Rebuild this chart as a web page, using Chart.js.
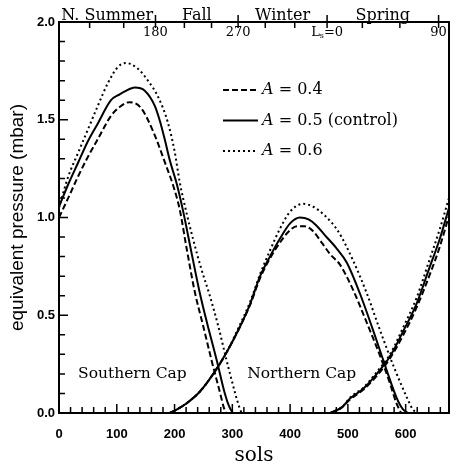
<!DOCTYPE html>
<html lang="en">
<head>
  <meta charset="UTF-8" />
  <title>Cap pressure vs sols</title>
  <style>
    body { margin: 0; background: #fff; }
    #wrap { width: 456px; height: 468px; }
  </style>
</head>
<body>
  <div id="wrap"><canvas id="capChart"></canvas></div>

  <script src="https://cdn.jsdelivr.net/npm/chart.js"></script>
  <script>
    // axis ticks
    const solTicks = [0, 100, 200, 300, 400, 500, 600];
    const pressureTicks = [0, 0.5, 1.0, 1.5, 2.0];

    // top axis: solar longitude Ls and the sol where it falls
    const lsValues = [120, 150, 180, 210, 240, 270, 300, 330, 0, 30, 60, 90];
    const lsSols = [53, 112, 167, 217, 264, 310, 357, 408, 464, 525, 590, 657];
    const lsLabelled = [180, 270, 0, 90];
    const seasons = ["N. Summer", "Fall", "Winter", "Spring"];
    const seasonStart = [0, 167, 310, 464];
    const seasonEnd = [167, 310, 464, 657];

    const albedos = ["0.4", "0.5", "0.6"];
    const albedoNotes = ["", " (control)", ""];

    // southern cap (year start, then the next growth at year end)
    const south04Sols = [0, 16, 33, 50, 67, 90, 105, 122, 142, 163, 186, 198, 209, 221, 235, 250, 264, 279, 285, 289,
                         380, 470, 490, 504, 527, 550, 573, 596, 619, 642, 659, 675];
    const south04 = [1.00, 1.10, 1.21, 1.31, 1.40, 1.52, 1.565, 1.59, 1.56, 1.44, 1.26, 1.16, 1.04, 0.84, 0.62, 0.44, 0.27, 0.10, 0.03, 0,
                     null, 0, 0.03, 0.07, 0.12, 0.19, 0.28, 0.40, 0.54, 0.71, 0.85, 1.01];

    const south05Sols = [0, 16, 33, 50, 67, 90, 105, 114, 131, 148, 166, 175, 183, 192, 204, 215, 230, 244, 258, 273, 287, 295, 301,
                         380, 470, 490, 504, 527, 550, 573, 596, 619, 642, 659, 675];
    const south05 = [1.055, 1.17, 1.28, 1.39, 1.48, 1.60, 1.63, 1.645, 1.665, 1.65, 1.57, 1.49, 1.40, 1.29, 1.17, 1.03, 0.81, 0.61, 0.44, 0.27, 0.10, 0.03, 0,
                     null, 0, 0.03, 0.075, 0.125, 0.20, 0.29, 0.42, 0.56, 0.75, 0.89, 1.05];

    const south06Sols = [0, 16, 33, 50, 67, 85, 102, 116, 137, 154, 171, 188, 200, 209, 221, 232, 246, 261, 276, 290, 305, 312, 316,
                         380, 470, 490, 504, 527, 550, 573, 596, 619, 642, 659, 675];
    const south06 = [1.05, 1.21, 1.33, 1.45, 1.57, 1.69, 1.77, 1.79, 1.76, 1.70, 1.62, 1.49, 1.34, 1.18, 1.02, 0.89, 0.74, 0.60, 0.44, 0.27, 0.10, 0.03, 0,
                     null, 0, 0.03, 0.08, 0.13, 0.21, 0.30, 0.44, 0.59, 0.79, 0.94, 1.10];

    // northern cap
    const north04Sols = [192, 205, 221, 244, 267, 290, 313, 331, 348, 365, 382, 398, 412, 425, 440, 455, 470, 486, 509, 533, 556, 573, 584, 592];
    const north04 = [0, 0.02, 0.05, 0.11, 0.20, 0.31, 0.44, 0.555, 0.69, 0.79, 0.87, 0.93, 0.955, 0.955, 0.93, 0.87, 0.81, 0.76, 0.63, 0.46, 0.29, 0.15, 0.05, 0];

    const north05Sols = [192, 205, 221, 244, 267, 290, 313, 331, 348, 365, 382, 400, 417, 432, 445, 460, 481, 498, 521, 544, 567, 584, 595, 604];
    const north05 = [0, 0.02, 0.05, 0.11, 0.20, 0.31, 0.44, 0.56, 0.70, 0.80, 0.89, 0.97, 1.00, 0.99, 0.96, 0.91, 0.84, 0.77, 0.61, 0.42, 0.22, 0.08, 0.02, 0];

    const north06Sols = [192, 205, 221, 244, 267, 290, 313, 331, 348, 365, 382, 400, 422, 440, 460, 483, 509, 533, 556, 579, 602, 612, 619];
    const north06 = [0, 0.02, 0.05, 0.11, 0.20, 0.31, 0.45, 0.57, 0.71, 0.83, 0.94, 1.03, 1.07, 1.055, 1.01, 0.93, 0.78, 0.61, 0.42, 0.24, 0.08, 0.02, 0];

    const pts = (xs, ys) => xs.map((x, i) => ({ x: x, y: ys[i] }));

    const dashes = [[6, 3], [], [2, 3]];
    const southSeries = [pts(south04Sols, south04), pts(south05Sols, south05), pts(south06Sols, south06)];
    const northSeries = [pts(north04Sols, north04), pts(north05Sols, north05), pts(north06Sols, north06)];

    function lineSet(label, data, i) {
      return {
        label: label,
        data: data,
        borderColor: "#000",
        borderWidth: 2,
        borderDash: dashes[i],
        pointRadius: 0,
        cubicInterpolationMode: "monotone",
        spanGaps: false
      };
    }

    const datasets = [];
    albedos.forEach((a, i) => datasets.push(lineSet("A = " + a, southSeries[i], i)));
    albedos.forEach((a, i) => datasets.push(lineSet("A = " + a + " north", northSeries[i], i)));

    const serif = "'DejaVu Serif', serif";
    const sans = "'Liberation Sans', Arial, sans-serif";

    const framePlugin = {
      id: "frame",
      afterDraw(chart) {
        const { ctx, chartArea: a, scales: { x, y } } = chart;
        ctx.save();
        ctx.strokeStyle = "#000";
        ctx.fillStyle = "#000";
        ctx.lineWidth = 2;
        ctx.strokeRect(a.left, a.top, a.right - a.left, a.bottom - a.top);

        // inward ticks
        ctx.lineWidth = 1.5;
        ctx.beginPath();
        for (let s = 0; s <= x.max; s += 20) {
          const px = x.getPixelForValue(s);
          const len = s % 100 === 0 ? 9 : 6;
          ctx.moveTo(px, a.bottom);
          ctx.lineTo(px, a.bottom - len);
        }
        for (let k = 0; k <= 20; k++) {
          const py = y.getPixelForValue(k / 10);
          const len = k % 5 === 0 ? 9 : 6;
          ctx.moveTo(a.left, py);
          ctx.lineTo(a.left + len, py);
        }
        lsSols.forEach((s, i) => {
          const px = x.getPixelForValue(s);
          const major = lsLabelled.includes(lsValues[i]);
          ctx.moveTo(px, a.top - (major ? 7 : 0));
          ctx.lineTo(px, a.top + 6);
        });
        ctx.stroke();

        // Ls labels under the top axis
        ctx.textBaseline = "middle";
        lsSols.forEach((s, i) => {
          const v = lsValues[i];
          if (!lsLabelled.includes(v)) return;
          const px = x.getPixelForValue(s);
          const ty = a.top + 11;
          if (v === 0) {
            ctx.font = "13px " + serif;
            const wL = ctx.measureText("L").width;
            const wR = ctx.measureText("=0").width;
            ctx.font = "8px " + serif;
            const wS = ctx.measureText("s").width;
            const sx = px - (wL + wS + wR) / 2;
            ctx.textAlign = "left";
            ctx.font = "13px " + serif;
            ctx.fillText("L", sx, ty);
            ctx.font = "8px " + serif;
            ctx.fillText("s", sx + wL, ty + 3);
            ctx.font = "13px " + serif;
            ctx.fillText("=0", sx + wL + wS, ty);
          } else {
            ctx.font = "13px " + serif;
            ctx.textAlign = "center";
            ctx.fillText(String(v), px, ty);
          }
        });

        // season names above the top axis
        ctx.font = "16px " + serif;
        ctx.textAlign = "center";
        ctx.textBaseline = "alphabetic";
        seasons.forEach((name, i) => {
          const px = x.getPixelForValue((seasonStart[i] + seasonEnd[i]) / 2);
          ctx.fillText(name, px, a.top - 2);
        });

        // cap labels
        ctx.font = "15.5px " + serif;
        ctx.textBaseline = "middle";
        ctx.fillText("Southern Cap", x.getPixelForValue(127), y.getPixelForValue(0.2));
        ctx.fillText("Northern Cap", x.getPixelForValue(420), y.getPixelForValue(0.2));

        // legend
        const lx = a.left + 164;
        albedos.forEach((alb, i) => {
          const ly = a.top + 68 + i * 30.5;
          ctx.lineWidth = 2;
          ctx.setLineDash(dashes[i]);
          ctx.beginPath();
          ctx.moveTo(lx, ly);
          ctx.lineTo(lx + 35, ly);
          ctx.stroke();
          ctx.setLineDash([]);
          ctx.textAlign = "left";
          ctx.font = "italic 16px " + serif;
          ctx.fillText("A", lx + 39, ly);
          const wA = ctx.measureText("A").width;
          ctx.font = "16px " + serif;
          ctx.fillText(" = " + alb + albedoNotes[i], lx + 39 + wA, ly);
        });
        ctx.restore();
      }
    };

    new Chart(document.getElementById("capChart"), {
      type: "line",
      data: { datasets: datasets },
      options: {
        responsive: true,
        maintainAspectRatio: false,
        animation: false,
        layout: { padding: { top: 22, right: 7, left: 0, bottom: 0 } },
        plugins: {
          legend: { display: false },
          tooltip: { enabled: false }
        },
        scales: {
          x: {
            type: "linear",
            min: 0,
            max: 675,
            afterBuildTicks: s => { s.ticks = solTicks.map(v => ({ value: v })); },
            afterFit: s => { s.height = 55; },
            grid: { display: false, drawTicks: false },
            border: { display: false },
            ticks: {
              padding: 14,
              color: "#000",
              maxRotation: 0,
              font: { family: sans, size: 13, weight: "bold" }
            },
            title: {
              display: true,
              text: "sols",
              color: "#000",
              padding: { top: 0, bottom: 0 },
              font: { family: serif, size: 20 }
            }
          },
          y: {
            min: 0,
            max: 2,
            afterBuildTicks: s => { s.ticks = pressureTicks.map(v => ({ value: v })); },
            afterFit: s => { s.width = 59; },
            grid: { display: false, drawTicks: false },
            border: { display: false },
            ticks: {
              padding: 4,
              color: "#000",
              callback: v => Number(v).toFixed(1),
              font: { family: sans, size: 13, weight: "bold" }
            },
            title: {
              display: true,
              text: "equivalent pressure (mbar)",
              color: "#000",
              padding: { top: 6, bottom: 0 },
              font: { family: sans, size: 19 }
            }
          }
        }
      },
      plugins: [framePlugin]
    });
  </script>
</body>
</html>
